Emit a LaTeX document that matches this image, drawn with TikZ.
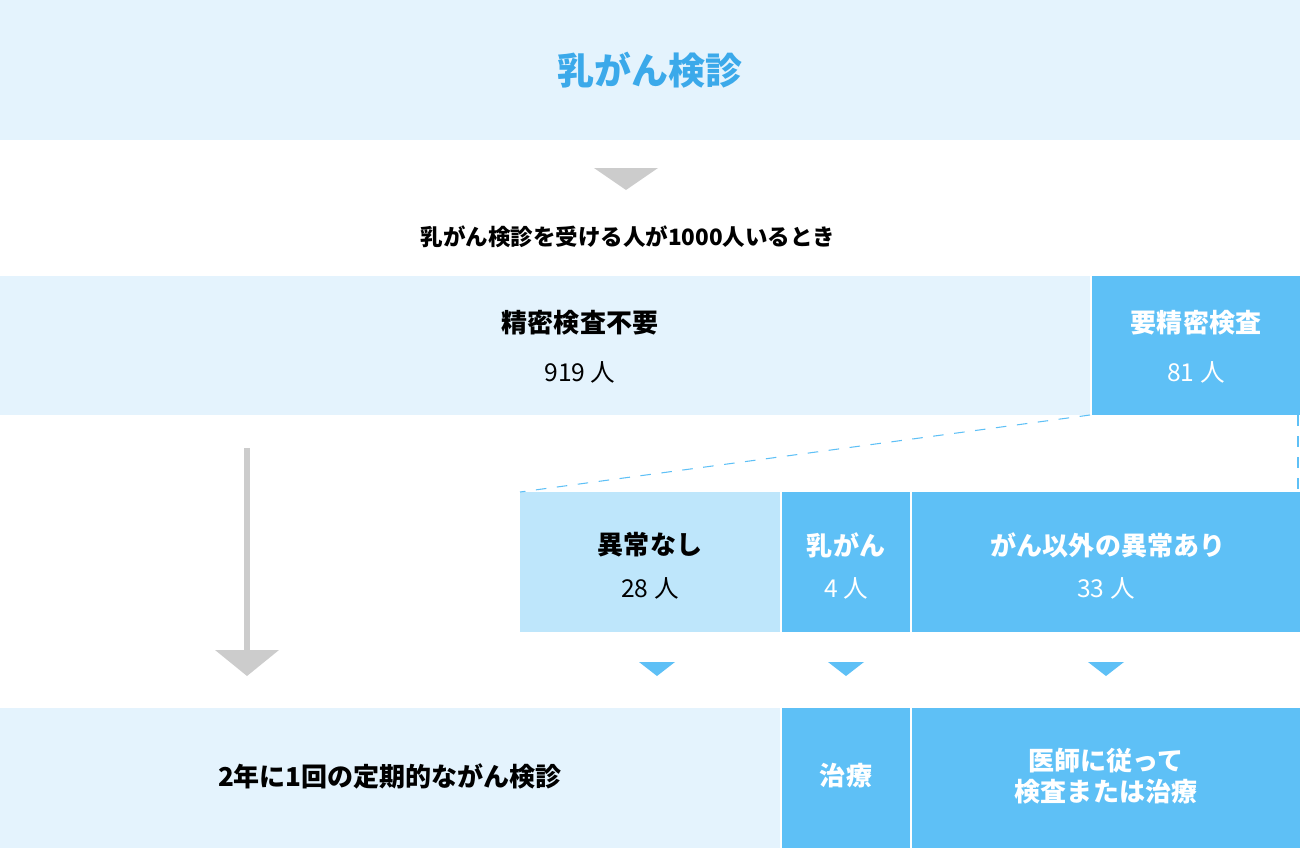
\documentclass[tikz,border=0pt]{standalone}
\usepackage{fontspec}
\setmainfont{Noto Sans CJK JP}
\usetikzlibrary{positioning}
\definecolor{lightbox}{HTML}{E4F3FD}
\definecolor{paleblue}{HTML}{BEE6FB}
\definecolor{midblue}{HTML}{5EC0F6}
\definecolor{titleblue}{HTML}{3BA9EA}
\definecolor{arrowgray}{HTML}{CCCCCC}
\newcommand{\px}{0.01cm}

\tikzset{
  box/.style={anchor=north west, inner sep=0pt, outer sep=0pt, align=center},
  lightcell/.style={box, fill=lightbox, text=black},
  palecell/.style={box, fill=paleblue, text=black},
  bluecell/.style={box, fill=midblue, text=white},
  headtxt/.style={font=\fontsize{7.4pt}{9pt}\selectfont\bfseries},
  numtxt/.style={font=\fontsize{7pt}{9pt}\selectfont},
  graytri/.style={fill=arrowgray},
  bluetri/.style={fill=midblue},
  dashline/.style={midblue, dashed, line width=0.3pt}
}

\begin{document}
\begin{tikzpicture}[x=\px, y=-\px]
\useasboundingbox (0,0) rectangle (1300,848);

% title banner
\node[lightcell, minimum width=1300*\px, minimum height=140*\px] (title) at (0,0) {};
\node[titleblue, font=\fontsize{10.5pt}{12pt}\selectfont\bfseries] (titletxt) at (650,70) {乳がん検診};

\fill[graytri] (594,168) -- (658,168) -- (626,190) -- cycle;
\node[font=\fontsize{6.4pt}{8pt}\selectfont\bfseries] (cond) at (628,237) {乳がん検診を受ける人が1000人いるとき};

% first split
\node[lightcell, minimum width=1090*\px, minimum height=139*\px] (nocheck) at (0,276) {};
\node[headtxt] (nochecka) at (580,323) {精密検査不要};
\node[numtxt] (nocheckb) at (580,372) {919 人};

\node[bluecell, minimum width=208*\px, minimum height=139*\px] (check) at (1092,276) {};
\node[headtxt, text=white] (checka) at (1196,323) {要精密検査};
\node[numtxt, text=white] (checkb) at (1196,372) {81 人};

% second split
\node[palecell, minimum width=260*\px, minimum height=140*\px] (normal) at (520,492) {};
\node[headtxt] (normala) at (650,545) {異常なし};
\node[numtxt] (normalb) at (650,588) {28 人};

\node[bluecell, minimum width=128*\px, minimum height=140*\px] (cancer) at (782,492) {};
\node[headtxt, text=white] (cancera) at (846,545) {乳がん};
\node[numtxt, text=white] (cancerb) at (846,588) {4 人};

\node[bluecell, minimum width=388*\px, minimum height=140*\px] (other) at (912,492) {};
\node[headtxt, text=white] (othera) at (1108,545) {がん以外の異常あり};
\node[numtxt, text=white] (otherb) at (1106,588) {33 人};

\draw[dashline] (nocheck.south east) -- (normal.north west);
\draw[dashline] ([xshift=-2*\px]check.south east) -- ([xshift=-2*\px]other.north east);

% arrows
\coordinate (grayend) at (247,650);
\draw[arrowgray, line width=1.5pt] (247,448) -- (grayend);
\fill[graytri] (215,650) -- (279,650) -- (247,676) -- cycle;
\foreach \cx in {657,846,1106}
  \fill[bluetri] (\cx-18,662) -- (\cx+18,662) -- (\cx,676) -- cycle;

% results
\node[lightcell, minimum width=780*\px, minimum height=140*\px] (regular) at (0,708) {};
\node[headtxt] (regulara) at (390,776) {2年に1回の定期的ながん検診};

\node[bluecell, minimum width=128*\px, minimum height=140*\px] (treat) at (782,708) {};
\node[headtxt, text=white] (treata) at (846,776) {治療};

\node[bluecell, minimum width=388*\px, minimum height=140*\px] (doctor) at (912,708) {};
\node[headtxt, text=white, align=center] (doctora) at (1106,776) {医師に従って\\検査または治療};
\end{tikzpicture}
\end{document}
